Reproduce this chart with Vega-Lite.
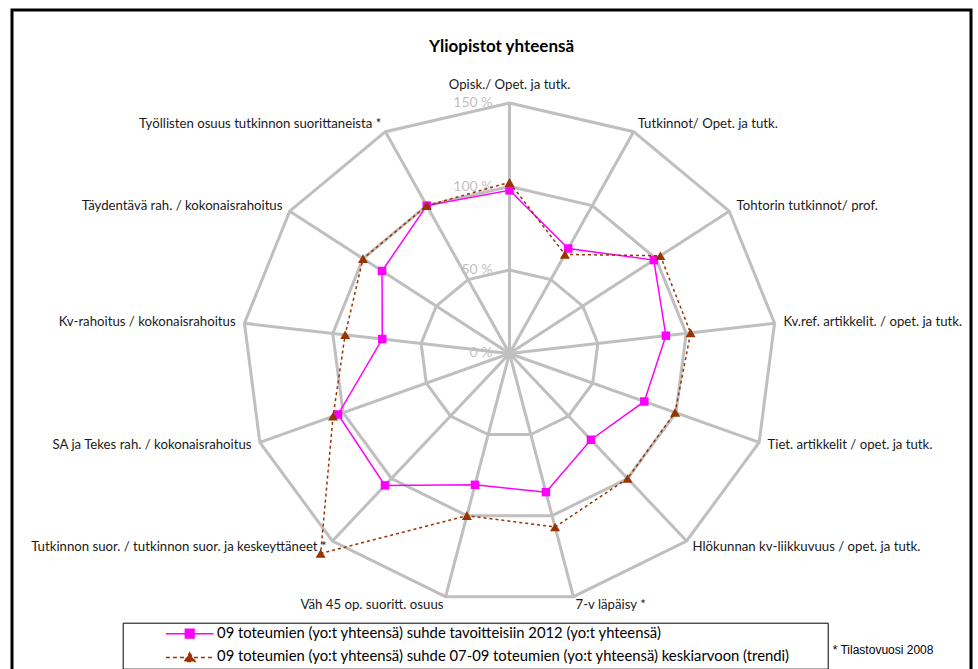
{
  "$schema": "https://vega.github.io/schema/vega-lite/v6.json",
  "width": 959,
  "height": 662,
  "autosize": {"type": "none"},
  "padding": {"left": 12, "top": 10, "right": 7, "bottom": -3},
  "background": "white",
  "title": {"text": "Yliopistot yhteensä", "font": "Lato", "fontSize": 17, "fontWeight": "bold", "color": "black", "anchor": "middle", "frame": "group", "dx": 10, "offset": -46},
  "config": {"view": {"stroke": "black", "strokeWidth": 3}},
  "datasets": {
    "axes": [
      {"i": 0, "name": "Opisk./ Opet. ja tutk."},
      {"i": 1, "name": "Tutkinnot/ Opet. ja tutk."},
      {"i": 2, "name": "Tohtorin tutkinnot/ prof."},
      {"i": 3, "name": "Kv.ref. artikkelit. / opet. ja tutk."},
      {"i": 4, "name": "Tiet. artikkelit / opet. ja tutk."},
      {"i": 5, "name": "Hlökunnan kv-liikkuvuus / opet. ja tutk."},
      {"i": 6, "name": "7-v läpäisy *"},
      {"i": 7, "name": "Väh 45 op. suoritt. osuus"},
      {"i": 8, "name": "Tutkinnon suor. / tutkinnon suor. ja keskeyttäneet *"},
      {"i": 9, "name": "SA ja Tekes rah. / kokonaisrahoitus"},
      {"i": 10, "name": "Kv-rahoitus / kokonaisrahoitus"},
      {"i": 11, "name": "Täydentävä rah. / kokonaisrahoitus"},
      {"i": 12, "name": "Työllisten osuus tutkinnon suorittaneista *"}
    ],
    "levels": [
      {"level": 0, "label": "0 %"},
      {"level": 0.5, "label": "50 %"},
      {"level": 1, "label": "100 %"},
      {"level": 1.5, "label": "150 %"}
    ],
    "values": [
      {"s": "A", "i": 0, "v": 0.977},
      {"s": "A", "i": 1, "v": 0.71},
      {"s": "A", "i": 2, "v": 0.985},
      {"s": "A", "i": 3, "v": 0.885},
      {"s": "A", "i": 4, "v": 0.81},
      {"s": "A", "i": 5, "v": 0.69},
      {"s": "A", "i": 6, "v": 0.855},
      {"s": "A", "i": 7, "v": 0.81},
      {"s": "A", "i": 8, "v": 1.055},
      {"s": "A", "i": 9, "v": 1.03},
      {"s": "A", "i": 10, "v": 0.72},
      {"s": "A", "i": 11, "v": 0.87},
      {"s": "A", "i": 12, "v": 1.0},
      {"s": "B", "i": 0, "v": 1.025},
      {"s": "B", "i": 1, "v": 0.67},
      {"s": "B", "i": 2, "v": 1.03},
      {"s": "B", "i": 3, "v": 1.025},
      {"s": "B", "i": 4, "v": 0.995},
      {"s": "B", "i": 5, "v": 1.0},
      {"s": "B", "i": 6, "v": 1.07},
      {"s": "B", "i": 7, "v": 1.0},
      {"s": "B", "i": 8, "v": 1.6},
      {"s": "B", "i": 9, "v": 1.06},
      {"s": "B", "i": 10, "v": 0.93},
      {"s": "B", "i": 11, "v": 1.0},
      {"s": "B", "i": 12, "v": 1.0}
    ],
    "note": [{"text": "* Tilastovuosi 2008"}]
  },
  "layer": [
    {
      "data": {"name": "levels"},
      "mark": {"type": "text", "align": "right", "baseline": "middle", "dx": -17, "color": "#bfbfbf", "font": "Lato", "fontSize": 14},
      "encoding": {
        "x": {"datum": 0, "type": "quantitative", "scale": {"domain": [-2.7949, 2.5927], "nice": false, "zero": false}, "axis": null},
        "y": {"field": "level", "type": "quantitative", "scale": {"domain": [-1.9072, 2.0569], "nice": false, "zero": false}, "axis": null},
        "text": {"field": "label"}
      }
    },
    {
      "data": {"name": "axes"},
      "transform": [
        {"calculate": "2*PI*datum.i/13", "as": "a"},
        {"calculate": "0.5*sin(datum.a)", "as": "x"},
        {"calculate": "0.5*cos(datum.a)", "as": "y"}
      ],
      "mark": {"type": "line", "interpolate": "linear-closed", "stroke": "#bfbfbf", "strokeWidth": 3},
      "encoding": {
        "x": {"field": "x", "type": "quantitative"},
        "y": {"field": "y", "type": "quantitative"},
        "order": {"field": "i", "type": "quantitative"}
      }
    },
    {
      "data": {"name": "axes"},
      "transform": [
        {"calculate": "2*PI*datum.i/13", "as": "a"},
        {"calculate": "1.0*sin(datum.a)", "as": "x"},
        {"calculate": "1.0*cos(datum.a)", "as": "y"}
      ],
      "mark": {"type": "line", "interpolate": "linear-closed", "stroke": "#bfbfbf", "strokeWidth": 3},
      "encoding": {
        "x": {"field": "x", "type": "quantitative"},
        "y": {"field": "y", "type": "quantitative"},
        "order": {"field": "i", "type": "quantitative"}
      }
    },
    {
      "data": {"name": "axes"},
      "transform": [
        {"calculate": "2*PI*datum.i/13", "as": "a"},
        {"calculate": "1.5*sin(datum.a)", "as": "x"},
        {"calculate": "1.5*cos(datum.a)", "as": "y"}
      ],
      "mark": {"type": "line", "interpolate": "linear-closed", "stroke": "#bfbfbf", "strokeWidth": 3},
      "encoding": {
        "x": {"field": "x", "type": "quantitative"},
        "y": {"field": "y", "type": "quantitative"},
        "order": {"field": "i", "type": "quantitative"}
      }
    },
    {
      "data": {"name": "axes"},
      "transform": [
        {"calculate": "2*PI*datum.i/13", "as": "a"},
        {"calculate": "1.5*sin(datum.a)", "as": "x"},
        {"calculate": "1.5*cos(datum.a)", "as": "y"}
      ],
      "mark": {"type": "rule", "stroke": "#bfbfbf", "strokeWidth": 3},
      "encoding": {
        "x": {"field": "x", "type": "quantitative"},
        "y": {"field": "y", "type": "quantitative"},
        "x2": {"datum": 0},
        "y2": {"datum": 0}
      }
    },
    {
      "data": {"name": "values"},
      "transform": [
        {"filter": "datum.s == 'A'"},
        {"calculate": "2*PI*datum.i/13", "as": "a"},
        {"calculate": "datum.v*sin(datum.a)", "as": "x"},
        {"calculate": "datum.v*cos(datum.a)", "as": "y"}
      ],
      "mark": {"type": "line", "interpolate": "linear-closed", "stroke": "#ff00ff", "strokeWidth": 1.5},
      "encoding": {
        "x": {"field": "x", "type": "quantitative"},
        "y": {"field": "y", "type": "quantitative"},
        "order": {"field": "i", "type": "quantitative"}
      }
    },
    {
      "data": {"name": "values"},
      "transform": [
        {"filter": "datum.s == 'A'"},
        {"calculate": "2*PI*datum.i/13", "as": "a"},
        {"calculate": "datum.v*sin(datum.a)", "as": "x"},
        {"calculate": "datum.v*cos(datum.a)", "as": "y"}
      ],
      "mark": {"type": "point", "shape": "square", "size": 72, "filled": true, "fill": "#ff00ff", "opacity": 1, "strokeWidth": 0},
      "encoding": {
        "x": {"field": "x", "type": "quantitative"},
        "y": {"field": "y", "type": "quantitative"}
      }
    },
    {
      "data": {"name": "values"},
      "transform": [
        {"filter": "datum.s == 'B'"},
        {"calculate": "2*PI*datum.i/13", "as": "a"},
        {"calculate": "datum.v*sin(datum.a)", "as": "x"},
        {"calculate": "datum.v*cos(datum.a)", "as": "y"}
      ],
      "mark": {"type": "line", "interpolate": "linear-closed", "stroke": "#993300", "strokeWidth": 1.5, "strokeDash": [3, 3]},
      "encoding": {
        "x": {"field": "x", "type": "quantitative"},
        "y": {"field": "y", "type": "quantitative"},
        "order": {"field": "i", "type": "quantitative"}
      }
    },
    {
      "data": {"name": "values"},
      "transform": [
        {"filter": "datum.s == 'B'"},
        {"calculate": "2*PI*datum.i/13", "as": "a"},
        {"calculate": "datum.v*sin(datum.a)", "as": "x"},
        {"calculate": "datum.v*cos(datum.a)", "as": "y"}
      ],
      "mark": {"type": "point", "shape": "triangle-up", "size": 100, "filled": true, "fill": "#993300", "opacity": 1, "strokeWidth": 0},
      "encoding": {
        "x": {"field": "x", "type": "quantitative"},
        "y": {"field": "y", "type": "quantitative"}
      }
    },
    {
      "data": {"name": "axes"},
      "transform": [
        {"filter": "datum.i == 0"},
        {"calculate": "2*PI*datum.i/13", "as": "a"},
        {"calculate": "1.5*sin(datum.a)", "as": "x"},
        {"calculate": "1.5*cos(datum.a)", "as": "y"}
      ],
      "mark": {"type": "text", "align": "center", "baseline": "middle", "dy": -18, "font": "Lato", "fontSize": 13.2, "color": "#1a1a1a"},
      "encoding": {
        "x": {"field": "x", "type": "quantitative"},
        "y": {"field": "y", "type": "quantitative"},
        "text": {"field": "name"}
      }
    },
    {
      "data": {"name": "axes"},
      "transform": [
        {"filter": "datum.i >= 1 && datum.i <= 6"},
        {"calculate": "2*PI*datum.i/13", "as": "a"},
        {"calculate": "1.55*sin(datum.a)", "as": "x"},
        {"calculate": "1.55*cos(datum.a)", "as": "y"}
      ],
      "mark": {"type": "text", "align": "left", "baseline": "middle", "font": "Lato", "fontSize": 13.2, "color": "#1a1a1a"},
      "encoding": {
        "x": {"field": "x", "type": "quantitative"},
        "y": {"field": "y", "type": "quantitative"},
        "text": {"field": "name"}
      }
    },
    {
      "data": {"name": "axes"},
      "transform": [
        {"filter": "datum.i >= 7"},
        {"calculate": "2*PI*datum.i/13", "as": "a"},
        {"calculate": "1.55*sin(datum.a)", "as": "x"},
        {"calculate": "1.55*cos(datum.a)", "as": "y"}
      ],
      "mark": {"type": "text", "align": "right", "baseline": "middle", "font": "Lato", "fontSize": 13.2, "color": "#1a1a1a"},
      "encoding": {
        "x": {"field": "x", "type": "quantitative"},
        "y": {"field": "y", "type": "quantitative"},
        "text": {"field": "name"}
      }
    },
    {
      "data": {"name": "note"},
      "mark": {"type": "text", "align": "left", "baseline": "middle", "font": "Liberation Sans", "fontSize": 12, "color": "black"},
      "encoding": {
        "x": {"datum": 1.8157, "type": "quantitative"},
        "y": {"datum": -1.7754, "type": "quantitative"},
        "text": {"field": "text"}
      }
    },
    {
      "data": {"name": "values"},
      "transform": [{"filter": "false"}],
      "mark": {"type": "point", "filled": true, "opacity": 1, "fillOpacity": 1, "strokeOpacity": 1},
      "encoding": {
        "fill": {
          "field": "s", "type": "nominal",
          "scale": {"domain": ["A", "B"], "range": ["#ff00ff", "#993300"]},
          "legend": {
            "title": " ", "titleOrient": "right", "titlePadding": 34, "titleFontSize": 4, "titleColor": "white",
            "orient": "none", "legendX": 110.7, "legendY": 612.7, "direction": "vertical",
            "strokeColor": "black", "fillColor": "white", "padding": 3.6,
            "symbolSize": 64, "symbolStrokeWidth": 1.5, "symbolOffset": 56, "labelOffset": 20, "rowPadding": 7.7,
            "labelFont": "Lato", "labelFontSize": 14.8, "labelColor": "black", "labelLimit": 900, "symbolOpacity": 1,
            "symbolFillOpacity": 1,
            "labelExpr": "datum.value == 'A' ? '09  toteumien (yo:t yhteensä) suhde tavoitteisiin 2012 (yo:t yhteensä)' : '09 toteumien (yo:t yhteensä) suhde 07-09 toteumien (yo:t yhteensä) keskiarvoon (trendi)'"
          }
        },
        "stroke": {"field": "s", "type": "nominal", "scale": {"domain": ["A", "B"], "range": ["#ff00ff", "#993300"]}},
        "shape": {"field": "s", "type": "nominal", "scale": {"domain": ["A", "B"], "range": ["M-5.95,0H5.95M-1.09,-1.09H1.09V1.09H-1.09Z", "M-5.95,0H5.95M0,-1.1L1.33,1H-1.33Z"]}},
        "strokeDash": {"field": "s", "type": "nominal", "scale": {"domain": ["A", "B"], "range": [[1, 0], [4, 3]]}}
      }
    }
  ]
}
